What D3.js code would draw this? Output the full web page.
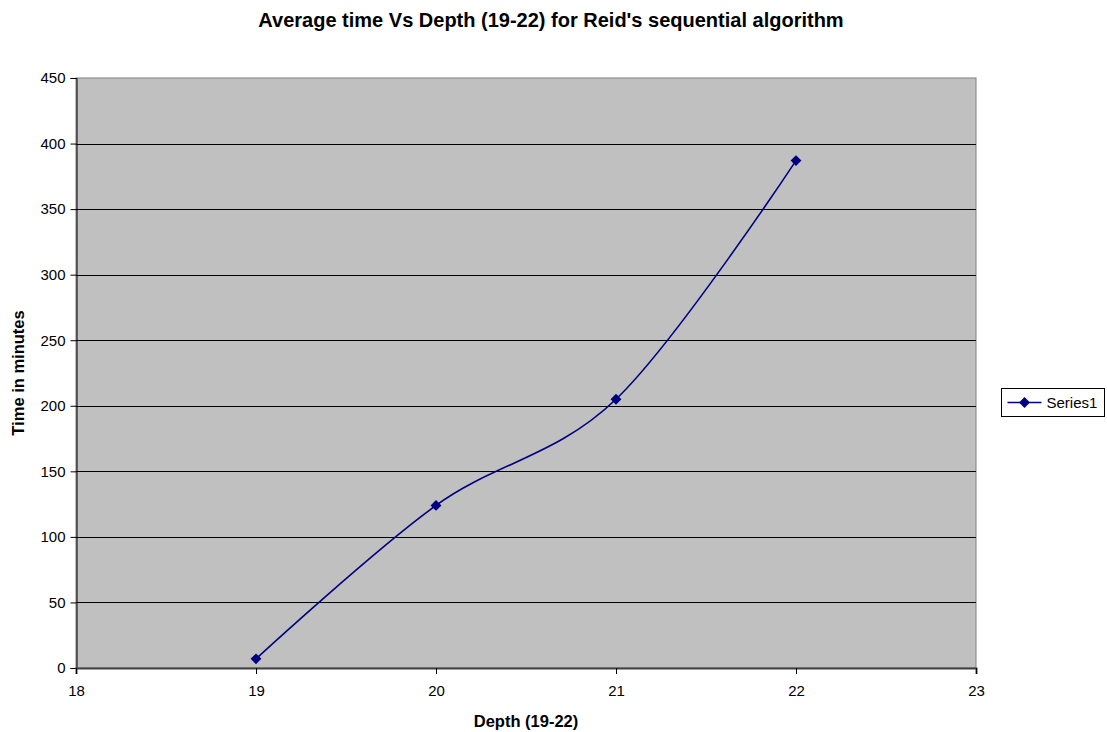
<!DOCTYPE html>
<html>
<head>
<meta charset="utf-8">
<script src="https://cdn.jsdelivr.net/npm/d3@7/dist/d3.min.js"></script>
<style>
  body { margin: 0; background: #fff; }
  text { font-family: "Liberation Sans", Arial, sans-serif; }
</style>
</head>
<body>
<svg id="chart" width="1107" height="732"></svg>
<script>
// data
const depths = [19, 20, 21, 22];
const times = [7, 124, 205, 387];
const xTicks = [18, 19, 20, 21, 22, 23];
const yTicks = [0, 50, 100, 150, 200, 250, 300, 350, 400, 450];
const seriesName = "Series1";

const svg = d3.select("#chart");
const plot = { left: 76, top: 78, right: 976, bottom: 668 };

const x = d3.scaleLinear().domain([18, 23]).range([plot.left, plot.right]);
const y = d3.scaleLinear().domain([0, 450]).range([plot.bottom, plot.top]);

// plot background
svg.append("rect")
  .attr("x", plot.left).attr("y", plot.top)
  .attr("width", plot.right - plot.left).attr("height", plot.bottom - plot.top)
  .attr("fill", "#c0c0c0").attr("stroke", "#808080").attr("stroke-width", 1);

// gridlines
svg.append("g")
  .selectAll("line")
  .data(yTicks.filter(d => d > 0 && d < 450))
  .join("line")
  .attr("x1", plot.left).attr("x2", plot.right)
  .attr("y1", d => Math.round(y(d)) + 0.5).attr("y2", d => Math.round(y(d)) + 0.5)
  .attr("stroke", "#000").attr("stroke-width", 1);

// axes
const yAxis = svg.append("g")
  .attr("transform", `translate(${plot.left + 0.5},0)`)
  .call(d3.axisLeft(y).tickValues(yTicks).tickFormat(d3.format("d")).tickSize(6).tickPadding(5));
const xAxis = svg.append("g")
  .attr("transform", `translate(0,${plot.bottom})`)
  .call(d3.axisBottom(x).tickValues(xTicks).tickFormat(d3.format("d")).tickSize(6).tickPadding(11));

[yAxis, xAxis].forEach(g => {
  g.select(".domain").attr("stroke", "#000");
  g.selectAll(".tick line").attr("stroke", "#000");
  g.selectAll(".tick text").attr("fill", "#000").style("font-size", "15px")
    .style("font-family", "'Liberation Sans', Arial, sans-serif");
});
xAxis.select(".domain").attr("stroke", "#404040").attr("stroke-width", 2);

// smoothed series line
const line = d3.line()
  .x((d, i) => x(depths[i]))
  .y(d => y(d))
  .curve(d3.curveCardinal.tension(0));

svg.append("path")
  .datum(times)
  .attr("d", line)
  .attr("fill", "none")
  .attr("stroke", "#000080")
  .attr("stroke-width", 1.6);

const diamond = d3.symbol().type(d3.symbolDiamond2).size(75);
svg.append("g")
  .selectAll("path")
  .data(times)
  .join("path")
  .attr("d", diamond)
  .attr("transform", (d, i) => `translate(${x(depths[i])},${y(d)})`)
  .attr("fill", "#000080");

// title
svg.append("text")
  .attr("x", 551).attr("y", 27)
  .attr("text-anchor", "middle")
  .style("font-size", "20px").style("font-weight", "bold")
  .text("Average time Vs Depth (19-22) for Reid's sequential algorithm");

// axis titles
svg.append("text")
  .attr("x", 526).attr("y", 727)
  .attr("text-anchor", "middle")
  .style("font-size", "16.5px").style("font-weight", "bold")
  .text("Depth (19-22)");

svg.append("text")
  .attr("transform", "translate(24,373) rotate(-90)")
  .attr("text-anchor", "middle")
  .style("font-size", "16.5px").style("font-weight", "bold")
  .text("Time in minutes");

// legend
const legend = svg.append("g").attr("transform", "translate(1001.5,388.5)");
legend.append("rect")
  .attr("width", 103).attr("height", 28)
  .attr("fill", "#fff").attr("stroke", "#000");
legend.append("line")
  .attr("x1", 6).attr("x2", 40).attr("y1", 14).attr("y2", 14)
  .attr("stroke", "#000080").attr("stroke-width", 1.6);
legend.append("path")
  .attr("d", diamond)
  .attr("transform", "translate(23,14)")
  .attr("fill", "#000080");
legend.append("text")
  .attr("x", 45).attr("y", 19.5)
  .style("font-size", "15px")
  .text(seriesName);
</script>
</body>
</html>
